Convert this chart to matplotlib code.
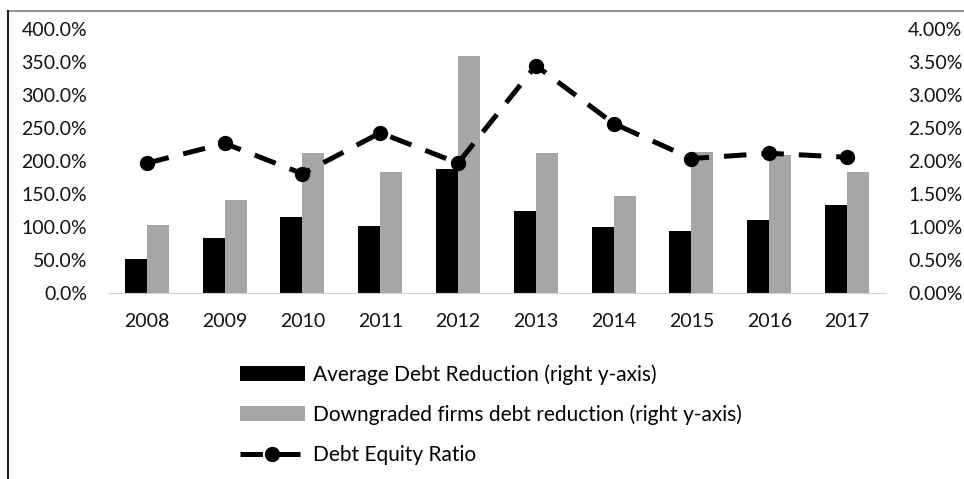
from matplotlib import pyplot as plt
from matplotlib.lines import Line2D
from matplotlib.ticker import FuncFormatter
import numpy as np

plt.rcParams['font.family'] = ['Lato', 'DejaVu Sans']

years = ['2008', '2009', '2010', '2011', '2012', '2013', '2014', '2015', '2016', '2017']
avg_debt_reduction = [51, 84, 115, 101.5, 188, 124, 100.5, 94.5, 111, 133]
downgraded_reduction = [103.5, 141, 213, 184, 360, 213, 146.5, 214.5, 210, 183]
debt_equity_ratio = [1.97, 2.27, 1.81, 2.43, 1.97, 3.45, 2.57, 2.04, 2.12, 2.06]

BLACK = '#000000'
GRAY = '#a6a6a6'
FONT = 14
LEG_FONT = 15
W = 0.283

fig = plt.figure(figsize=(9.64, 4.79), dpi=100)
ax = fig.add_axes([0.112, 0.388, 0.807, 0.551])
ax2 = ax.twinx()

x = np.arange(len(years))
b1 = ax.bar(x - W / 2, avg_debt_reduction, W, color=BLACK,
            label='Average Debt Reduction (right y-axis)')
b2 = ax.bar(x + W / 2, downgraded_reduction, W, color=GRAY,
            label='Downgraded firms debt reduction (right y-axis)')
l1, = ax2.plot(x, debt_equity_ratio, color=BLACK, lw=3.6, ls=(0, (4.5, 3)),
               marker='o', ms=10, label='Debt Equity Ratio')

ax.set_xlim(-0.5, len(years) - 0.5)
ax.set_ylim(0, 400)
ax2.set_ylim(0, 4)
ax.set_yticks(np.arange(0, 401, 50))
ax2.set_yticks(np.arange(0, 4.01, 0.5))
ax.yaxis.set_major_formatter(FuncFormatter(lambda v, p: f'{v:.1f}%'))
ax2.yaxis.set_major_formatter(FuncFormatter(lambda v, p: f'{v:.2f}%'))
ax.set_xticks(x)
ax.set_xticklabels(years)

for a in (ax, ax2):
    for s in a.spines.values():
        s.set_visible(False)
    a.tick_params(length=0, labelsize=FONT, colors='#111111')
ax.spines['bottom'].set_visible(True)
ax.spines['bottom'].set_color('#d0d0d0')
ax.tick_params(axis='y', pad=15)
ax.tick_params(axis='x', pad=14)
ax2.tick_params(axis='y', pad=16)

fig.legend(handles=[b1, b2, l1], loc='upper left', bbox_to_anchor=(0.249, 0.24),
           frameon=False, fontsize=LEG_FONT, borderpad=0, borderaxespad=0,
           handlelength=3.1, handletextpad=0.4, labelspacing=0.95)

# outer frame lines
fig.add_artist(Line2D([0.0083, 1.0], [0.978, 0.978], color='#808080', lw=1.2))
fig.add_artist(Line2D([0.0083, 0.0083], [0.0, 0.978], color='#222222', lw=1.5))

fig.savefig('out.png', dpi=100)
